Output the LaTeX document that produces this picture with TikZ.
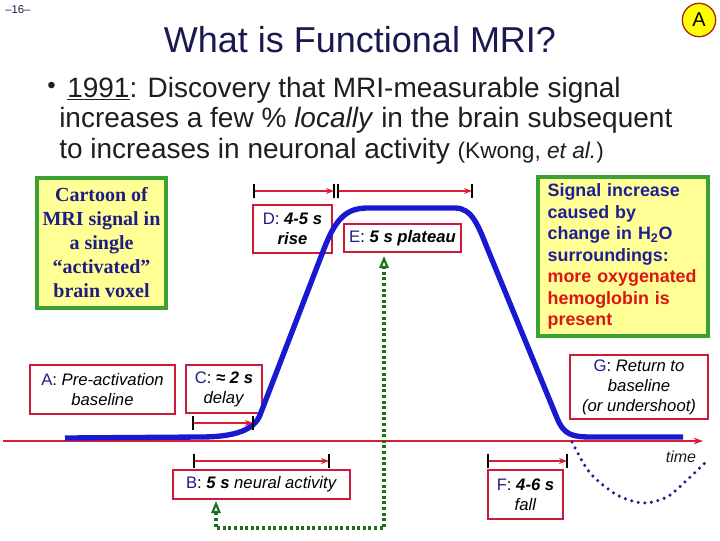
\documentclass[tikz,border=0pt]{standalone}
\usepackage{fontspec}
\setmainfont{Liberation Sans}
\newfontfamily\cartoonfont{Liberation Serif}
\usetikzlibrary{arrows.meta}
\definecolor{titlenavy}{RGB}{25,25,80}
\definecolor{bodygray}{RGB}{30,30,30}
\definecolor{circred}{RGB}{170,40,20}
\definecolor{markyellow}{RGB}{255,255,0}
\definecolor{noteyellow}{RGB}{255,255,150}
\definecolor{notegreen}{RGB}{60,160,50}
\definecolor{cartoonblue}{RGB}{30,30,130}
\definecolor{signalblue}{RGB}{30,30,150}
\definecolor{signalred}{RGB}{220,20,20}
\definecolor{boxred}{RGB}{205,25,60}
\definecolor{keyblue}{RGB}{30,30,140}
\definecolor{curveblue}{RGB}{25,25,210}
\definecolor{dotblue}{RGB}{30,30,150}
\definecolor{dimred}{RGB}{220,30,50}
\definecolor{linkgreen}{RGB}{30,110,30}
\newcommand\keyl[1]{\textcolor{keyblue}{\upshape\mdseries #1}:}
\tikzset{
bodytext/.style={font=\fontsize{21}{30}\selectfont,text=bodygray,anchor=base west,inner sep=0pt},
notebox/.style={draw=notegreen,line width=2.4pt,fill=noteyellow,align=center,inner sep=0pt},
keybox/.style={draw=boxred,line width=2pt,fill=white,align=center,inner sep=0pt,
  font=\fontsize{12.5}{15}\selectfont},
dimtick/.style={black,line width=1.2pt},
dimarrow/.style={dimred,line width=1.1pt,-{Stealth[length=6pt,width=4.5pt]}},
boldcurve/.style={curveblue,line width=4pt,line join=round},
dotcurve/.style={dotblue,line width=2.6pt,line cap=round,dash pattern=on 0pt off 5pt},
greenlink/.style={linkgreen,line width=2.8pt,dash pattern=on 2.2pt off 2pt,
  {Triangle[open,length=9pt,width=7pt,line width=1.6pt]}-{Triangle[open,length=9pt,width=7pt,line width=1.6pt]}}
}
\begin{document}
\begin{tikzpicture}[x=0.75pt,y=-0.75pt]
\useasboundingbox (0,0) rectangle (720,540);

% heading
\node[font=\fontsize{8.5}{9}\selectfont,text=titlenavy,anchor=west,inner sep=0pt] (pageno) at (5,10) {–16–};
\node[font=\fontsize{27}{30}\selectfont,text=titlenavy] (title) at (360,40) {What is Functional MRI?};
\node[circle,draw=circred,line width=1pt,fill=markyellow,minimum size=25pt,inner sep=0pt,
  font=\fontsize{15}{15}\selectfont] (mark) at (699,20) {A};

% bullet
\node[bodytext,font=\fontsize{18}{18}\selectfont] (dot) at (47,93) {\textbullet};
\node[bodytext] (line1) at (67,97) {\underline{1991}: Discovery that MRI-measurable signal};
\node[bodytext] (line2) at (59,127) {increases a few \% \textit{locally} in the brain subsequent};
\node[bodytext] (line3) at (59,158) {to increases in neuronal activity {\fontsize{17}{20}\selectfont(Kwong, \textit{et al.})}};

% yellow notes
\node[notebox,minimum width=96.75pt,minimum height=97.5pt,text=cartoonblue,
  font=\cartoonfont\bfseries\fontsize{15}{18}\selectfont] (cartoon) at (101.5,243)
  {Cartoon of\\MRI signal in\\a single\\“activated”\\brain voxel};
\node[notebox,minimum width=127.5pt,minimum height=119.25pt,text width=113pt,align=left,
  text=signalblue,font=\bfseries\fontsize{13.4}{16.1}\selectfont] (signal) at (623,256.5)
  {Signal increase\\caused by\\change in H\textsubscript{2}O\\surroundings:\\
   \textcolor{signalred}{more oxygenated}\\\textcolor{signalred}{hemoglobin is}\\\textcolor{signalred}{present}};

% phase boxes
\node[keybox,minimum width=59.25pt,minimum height=36pt] (dbox) at (292.5,229)
  {\keyl{D} \textbf{\textit{4-5 s}}\\\textbf{\textit{rise}}};
\node[keybox,minimum width=87.75pt,minimum height=21pt] (ebox) at (402.5,238)
  {\keyl{E} \textbf{\textit{5 s plateau}}};
\node[keybox,minimum width=108.75pt,minimum height=36.75pt] (abox) at (102.5,389.5)
  {\keyl{A} \textit{Pre-activation}\\\textit{baseline}};
\node[keybox,minimum width=57pt,minimum height=36pt] (cbox) at (224,389)
  {\keyl{C} \textbf{\textit{≈ 2 s}}\\\textit{delay}};
\node[keybox,minimum width=103.5pt,minimum height=48pt] (gbox) at (639,387)
  {\keyl{G} \textit{Return to}\\\textit{baseline}\\\textit{(or undershoot)}};
\node[keybox,minimum width=132.75pt,minimum height=21.75pt] (bbox) at (261.5,484.5)
  {\keyl{B} \textit{\textbf{5 s} neural activity}};
\node[keybox,minimum width=56.25pt,minimum height=36.75pt] (fbox) at (525.5,494.5)
  {\keyl{F} \textbf{\textit{4-6 s}}\\\textit{fall}};

% time axis
\coordinate (axstart) at (3,441);
\coordinate (axend) at (703,441);
\draw[dimred,line width=1.3pt,-{Stealth[length=7pt,width=5pt]}] (axstart) -- (axend);
\node[font=\itshape\fontsize{12}{12}\selectfont,text=bodygray] (timelbl) at (681,457) {time};

% signal curve
\draw[boldcurve] (65,438) -- (200,437) .. controls (235,437) and (254,430) .. (260,415)
  -- (322,254) .. controls (333,225) and (342,208) .. (367,208) -- (455,208)
  .. controls (472,208) and (478,225) .. (488,250) -- (557,418)
  .. controls (564,435) and (572,437) .. (592,437) -- (683,437);
\draw[dotcurve] plot[smooth] coordinates {(572,442) (590,473) (617,495) (643,503) (667,497) (687,480) (708,460)};

% durations
\coordinate (riseL) at (254,191);
\coordinate (riseR) at (334,191);
\coordinate (platL) at (338,191);
\coordinate (platR) at (472,191);
\coordinate (delayL) at (193,423);
\coordinate (delayR) at (253,423);
\coordinate (neurL) at (194,461);
\coordinate (neurR) at (329,461);
\coordinate (fallL) at (488,461);
\coordinate (fallR) at (567,461);
\draw[dimarrow] (riseL) -- (riseR);
\draw[dimarrow] (platL) -- (platR);
\draw[dimarrow] (delayL) -- (delayR);
\draw[dimarrow] (neurL) -- (neurR);
\draw[dimarrow] (fallL) -- (fallR);
\foreach \c in {riseL,riseR,platL,platR,delayL,delayR,neurL,neurR,fallL,fallR}
  \draw[dimtick] ([yshift=5.5pt]\c) -- ([yshift=-5.5pt]\c);

% neural activity to plateau
\coordinate (gtop) at (384,256);
\coordinate (glow) at (216,501);
\draw[greenlink] (glow) -- (216,528) -| (gtop);

\end{tikzpicture}
\end{document}
